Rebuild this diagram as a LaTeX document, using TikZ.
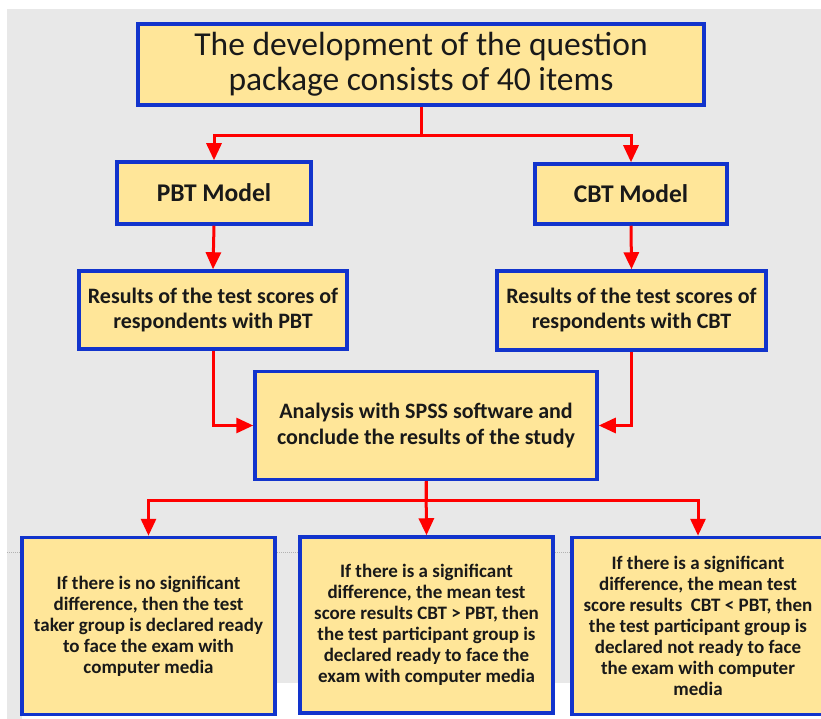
\documentclass[tikz,border=0pt]{standalone}
\usepackage{fontspec}
\setmainfont{Carlito}
\usetikzlibrary{arrows.meta}
\definecolor{boxfill}{HTML}{FFE699}
\definecolor{boxline}{HTML}{1234CC}
\definecolor{bggrey}{HTML}{E8E8E8}
\definecolor{arrred}{HTML}{FF0000}
\tikzset{
  box/.style={draw=boxline, line width=3.5pt, fill=boxfill, align=center, inner sep=2pt, text=black!90},
  arr/.style={draw=arrred, line width=3pt, -{Triangle[length=17pt,width=15pt]}},
}
\begin{document}
\begin{tikzpicture}[x=1pt,y=-1pt]
\useasboundingbox (0,0) rectangle (821,719);
\fill[bggrey] (7,9) rectangle (821,683);
\fill[bggrey] (7,683) rectangle (22,719);
\draw[black!30, dash pattern=on 1pt off 1pt, line width=0.6pt] (7,552) -- (821,552);

\node[box, minimum width=566pt, minimum height=81pt, font=\fontsize{33.5}{35}\selectfont] (top) at (421,64.5)
  {The development of the question\\package consists of 40 items};
\node[box, minimum width=194pt, minimum height=62pt, font=\bfseries\fontsize{25.5}{28}\selectfont] (pbt) at (214,193)
  {PBT Model};
\node[box, minimum width=192pt, minimum height=60pt, font=\bfseries\fontsize{25.5}{28}\selectfont] (cbt) at (631,194)
  {CBT Model};
\node[box, minimum width=268pt, minimum height=78pt, font=\bfseries\fontsize{22}{25}\selectfont] (rpbt) at (213,310)
  {Results of the test scores of\\respondents with PBT};
\node[box, minimum width=269pt, minimum height=79pt, font=\bfseries\fontsize{22}{25}\selectfont] (rcbt) at (631.5,310.5)
  {Results of the test scores of\\respondents with CBT};
\node[box, minimum width=342pt, minimum height=108pt, font=\bfseries\fontsize{22}{26}\selectfont] (ana) at (426,425.5)
  {Analysis with SPSS software and\\conclude the results of the study};
\node[box, minimum width=253pt, minimum height=177pt, font=\bfseries\fontsize{19}{21}\selectfont] (b1) at (148.5,626)
  {If there is no significant\\difference, then the test\\taker group is declared ready\\to face the exam with\\computer media};
\node[box, minimum width=253pt, minimum height=176pt, font=\bfseries\fontsize{19}{21}\selectfont] (b2) at (426.5,625)
  {If there is a significant\\difference, the mean test\\score results CBT > PBT, then\\the test participant group is\\declared ready to face the\\exam with computer media};
\node[box, minimum width=252pt, minimum height=177pt, font=\bfseries\fontsize{19}{21}\selectfont] (b3) at (698,626)
  {If there is a significant\\difference, the mean test\\score results\ \ CBT < PBT, then\\the test participant group is\\declared not ready to face\\the exam with computer\\media};

\draw[arr] (top.south) -- ++(0,29) -| (pbt.north);
\draw[arr] (top.south) -- ++(0,29) -| (cbt.north);
\draw[arr] (pbt.south) -- (rpbt.north);
\draw[arr] (cbt.south) -- (rcbt.north);
\draw[arr] (rpbt.south) |- (ana.west);
\draw[arr] (rcbt.south) |- (ana.east);
\draw[arr] (ana.south) -- ++(0,19) -| (b1.north);
\draw[arr] (ana.south) -- (b2.north);
\draw[arr] (ana.south) -- ++(0,19) -| (b3.north);
\end{tikzpicture}
\end{document}
